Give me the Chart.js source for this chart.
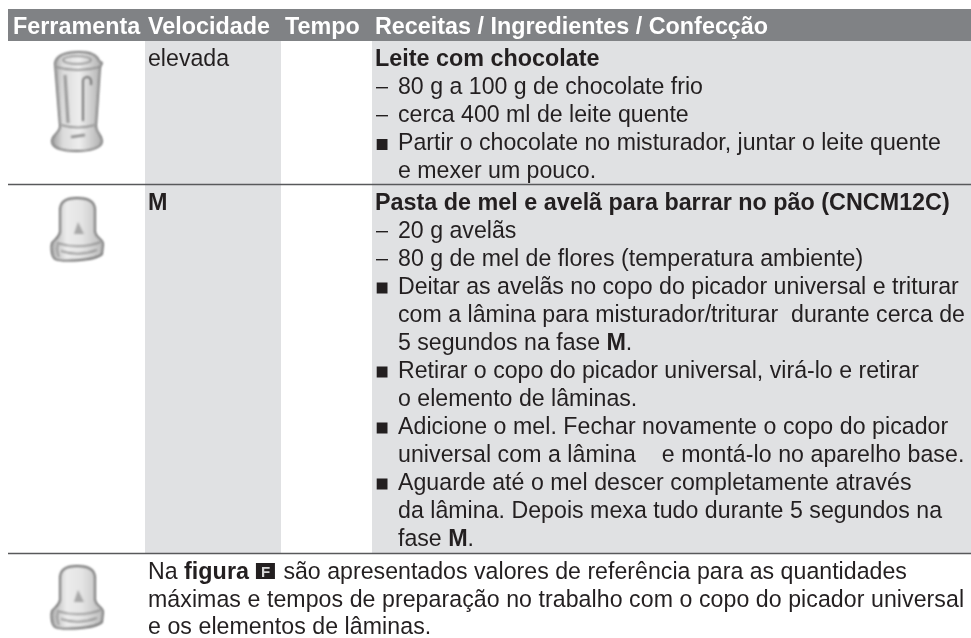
<!DOCTYPE html>
<html><head><meta charset="utf-8">
<style>html,body{margin:0;padding:0;background:#fff}canvas{display:block}</style>
<script src="https://cdn.jsdelivr.net/npm/chart.js@4"></script>
</head><body><canvas id="c" width="971" height="638"></canvas>
<script>
const headerLabels=["Ferramenta","Velocidade","Tempo","Receitas / Ingredientes / Confecção"];
const headerStarts=[13,148,285,375];
const speedLabels=["elevada","*M*"];
const speedBaselines=[65.5,209.5];
const recipeLines=[
"*Leite com chocolate*",
"80 g a 100 g de chocolate frio",
"cerca 400 ml de leite quente",
"Partir o chocolate no misturador, juntar o leite quente",
"e mexer um pouco.",
"*Pasta de mel e avelã para barrar no pão (CNCM12C)*",
"20 g avelãs",
"80 g de mel de flores (temperatura ambiente)",
"Deitar as avelãs no copo do picador universal e triturar",
"com a lâmina para misturador/triturar  durante cerca de",
"5 segundos na fase *M*.",
"Retirar o copo do picador universal, virá-lo e retirar",
"o elemento de lâminas.",
"Adicione o mel. Fechar novamente o copo do picador",
"universal com a lâmina    e montá-lo no aparelho base.",
"Aguarde até o mel descer completamente através",
"da lâmina. Depois mexa tudo durante 5 segundos na",
"fase *M*."];
const recipeMarkers=["","d","d","s","","","d","d","s","","","s","","s","","s","",""];
const recipeBaselines=[65.5,94,122,150,177.5,209.5,238,266,293.5,322,349.5,377.5,405.5,433.5,461.5,489.5,517.5,545.5];
const recipeTracking=[0,0,0,0,0,0,0,0.02,0,0.02,0,0,0,0.045,0.055,0.035,0.025,0];
const noteLines=["Na *figura* [F] são apresentados valores de referência para as quantidades",
"máximas e tempos de preparação no trabalho com o copo do picador universal",
"e os elementos de lâminas."];
const noteBaselines=[578.5,606.5,634];
const noteTracking=[0.015,0.06,0.06];
const iconCentres=[[77,101,"jar"],[77,230,"cup"],[77,598,"cup"]];
const bandStarts=[145,372];
const bandEnds=[281,971];
const ruleRows=[184.5,553.5];

const HEAD="#808285",BAND="#e0e1e3",RULE="#58595b",INK="#231f20";
const bandSets=bandStarts.map((s,i)=>({data:[{x:s,y:553},{x:bandEnds[i],y:553}],showLine:true,pointRadius:0,borderWidth:0,backgroundColor:BAND,fill:{value:41}}));
const headSet={data:[{x:8,y:41},{x:971,y:41}],showLine:true,pointRadius:0,borderWidth:0,backgroundColor:HEAD,fill:{value:9}};
const ruleSets=ruleRows.map(r=>({data:[{x:8,y:r},{x:971,y:r}],showLine:true,pointRadius:0,borderColor:RULE,borderWidth:1.4,fill:false}));

const SIZE=23.15, BOLD=23.35, FACE='"Liberation Sans",Arial,sans-serif';
function drawRuns(ctx,text,x,y,color,track){
  const parts=text.split(/(\*[^*]+\*|\[F\])/).filter(p=>p.length);
  ctx.textBaseline="alphabetic";ctx.textAlign="left";
  ctx.letterSpacing=(track||0)+"px";
  parts.forEach(p=>{
    if(p==="[F]"){
      ctx.fillStyle=INK;ctx.fillRect(x+0.5,y-15.5,19,16);
      ctx.fillStyle="#d8d8d8";ctx.font="bold 15px "+FACE;ctx.fillText("F",x+5.5,y-2);
      x+=21.5;return;
    }
    const bold=p[0]==="*";const t=bold?p.slice(1,-1):p;
    ctx.font=bold?"bold "+BOLD+"px "+FACE:SIZE+"px "+FACE;ctx.fillStyle=color;
    ctx.fillText(t,x,y);x+=ctx.measureText(t).width;
  });
  ctx.letterSpacing="0px";
}
function jar(ctx,cx,cy){
  ctx.save();ctx.translate(cx,cy);ctx.filter="blur(0.8px)";
  const g=ctx.createLinearGradient(-25,0,25,0);
  g.addColorStop(0,"#a0a0a0");g.addColorStop(.22,"#dcdcdc");g.addColorStop(.55,"#ededed");g.addColorStop(1,"#b0b0b0");
  ctx.fillStyle=g;ctx.strokeStyle="#777";ctx.lineWidth=1.8;
  ctx.beginPath();ctx.moveTo(-22,-38);ctx.bezierCurveTo(-20,-47,-8,-49,2,-49);ctx.bezierCurveTo(12,-49,20,-46,22,-40);
  ctx.lineTo(25,-38);ctx.lineTo(23,-34);ctx.lineTo(19,25);ctx.bezierCurveTo(19,32,25,34,25,40);ctx.bezierCurveTo(25,48,10,50,0,50);
  ctx.bezierCurveTo(-12,50,-25,48,-25,40);ctx.bezierCurveTo(-25,34,-17,32,-17,25);ctx.lineTo(-22,-38);ctx.closePath();ctx.fill();ctx.stroke();
  ctx.strokeStyle="#8a8a8a";ctx.lineWidth=1.4;
  ctx.beginPath();ctx.ellipse(0,-41,14,4,0,0,7);ctx.stroke();
  ctx.beginPath();ctx.moveTo(-21,-34);ctx.quadraticCurveTo(0,-28,23,-34);ctx.stroke();
  ctx.strokeStyle="#999";ctx.lineWidth=3;
  ctx.beginPath();ctx.moveTo(-12,-26);ctx.lineTo(-9,22);ctx.stroke();
  ctx.strokeStyle="#666";ctx.lineWidth=1.7;
  ctx.beginPath();ctx.moveTo(6,20);ctx.lineTo(6,-20);ctx.quadraticCurveTo(6,-24,11,-24);ctx.quadraticCurveTo(15,-23,14,-16);ctx.stroke();
  ctx.strokeStyle="#8c8c8c";ctx.lineWidth=1.6;
  ctx.beginPath();ctx.moveTo(-16,24);ctx.quadraticCurveTo(1,29,18,24);ctx.stroke();
  ctx.lineWidth=2.5;ctx.beginPath();ctx.moveTo(-6,36);ctx.lineTo(8,34);ctx.stroke();
  ctx.restore();
}
function cup(ctx,cx,cy){
  ctx.save();ctx.translate(cx,cy);ctx.filter="blur(0.8px)";
  const g=ctx.createLinearGradient(-26,0,26,0);
  g.addColorStop(0,"#b0b0b0");g.addColorStop(.3,"#ececec");g.addColorStop(.6,"#e4e4e4");g.addColorStop(1,"#bcbcbc");
  ctx.fillStyle=g;ctx.strokeStyle="#6e6e6e";ctx.lineWidth=1.8;
  ctx.beginPath();ctx.moveTo(-17,2);ctx.lineTo(-17,-20);ctx.bezierCurveTo(-17,-30,-8,-32,0,-32);ctx.bezierCurveTo(8,-32,18,-30,18,-20);
  ctx.lineTo(18,2);ctx.bezierCurveTo(19,8,26,9,26,14);ctx.lineTo(25,24);ctx.bezierCurveTo(18,31,-16,32,-22,29);ctx.bezierCurveTo(-26,26,-26,16,-25,13);ctx.bezierCurveTo(-22,9,-18,8,-17,2);ctx.closePath();ctx.fill();ctx.stroke();
  ctx.strokeStyle="#8f8f8f";ctx.lineWidth=1.4;
  ctx.beginPath();ctx.moveTo(-20,13);ctx.quadraticCurveTo(2,20,24,12);ctx.stroke();
  ctx.beginPath();ctx.moveTo(-16,21);ctx.quadraticCurveTo(2,27,20,20);ctx.stroke();
  ctx.beginPath();ctx.moveTo(-19,14);ctx.quadraticCurveTo(-21,20,-18,27);ctx.stroke();
  ctx.fillStyle="#a8a8a8";ctx.beginPath();ctx.moveTo(1,-8);ctx.lineTo(7,4);ctx.lineTo(-3,4);ctx.closePath();ctx.fill();
  ctx.restore();
}
const textPlugin={id:"tableText",afterDatasetsDraw(chart){
  const {ctx,scales:{x:sx,y:sy}}=chart;
  ctx.save();
  ctx.filter="blur(0.35px)";
  const X=v=>sx.getPixelForValue(v),Y=v=>sy.getPixelForValue(v);
  headerLabels.forEach((t,i)=>drawRuns(ctx,"*"+t+"*",X(headerStarts[i]),Y(33.5),"#ffffff",0));
  speedLabels.forEach((t,i)=>drawRuns(ctx,t,X(148),Y(speedBaselines[i]),INK,0));
  recipeLines.forEach((t,i)=>{
    const m=recipeMarkers[i],y=Y(recipeBaselines[i]);
    const bold=t[0]==="*"&&i!==10;
    drawRuns(ctx,t,X(bold?375:398),y,INK,recipeTracking[i]);
    if(m==="d"){ctx.fillStyle=INK;ctx.fillRect(X(376),y-7,X(388)-X(376),1.4);}
    if(m==="s"){ctx.fillStyle=INK;ctx.fillRect(X(376.7),y-11,X(387.5)-X(376.7),11);}
  });
  noteLines.forEach((t,i)=>drawRuns(ctx,t,X(148),Y(noteBaselines[i]),INK,noteTracking[i]));
  ctx.restore();
  iconCentres.forEach(([a,b,k])=>(k==="jar"?jar:cup)(ctx,X(a),Y(b)));
}};
new Chart(document.getElementById("c"),{type:"scatter",
 data:{datasets:[...ruleSets,headSet,...bandSets]},
 plugins:[textPlugin],
 options:{responsive:false,animation:false,events:[],
  layout:{padding:0},
  plugins:{legend:{display:false},tooltip:{enabled:false},title:{display:false}},
  scales:{x:{type:"linear",min:0,max:971,display:false},y:{type:"linear",min:0,max:638,reverse:true,display:false}}}});
</script></body></html>
